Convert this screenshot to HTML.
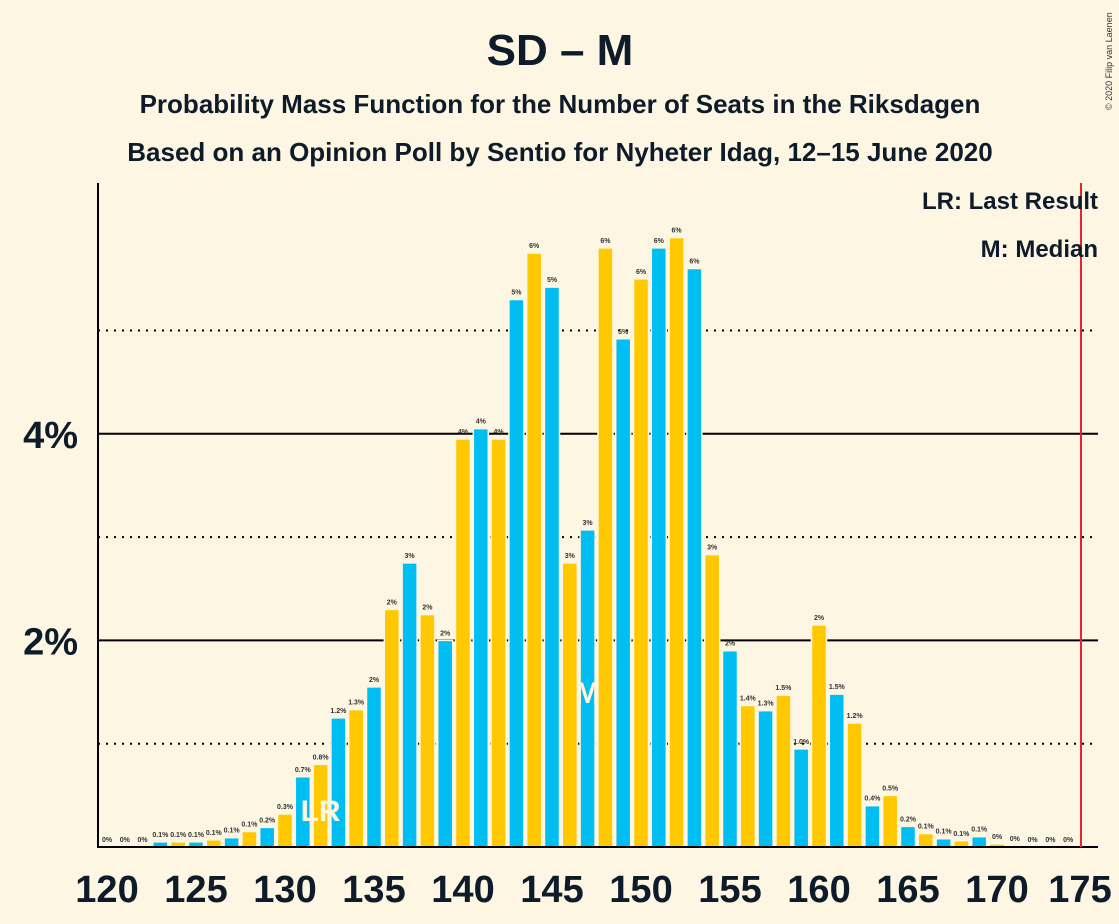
<!DOCTYPE html>
<html><head><meta charset="utf-8"><style>
body{margin:0;background:#fdf6e3;}
svg{display:block;font-family:"Liberation Sans",sans-serif;}
</style></head><body>
<svg id="c" width="1119" height="924">
<rect width="1119" height="924" fill="#fdf6e3"/>
<text x="560" y="65" text-anchor="middle" font-size="44" font-weight="bold" fill="#0d1b2a">SD – M</text>
<text x="560" y="113" text-anchor="middle" font-size="26" font-weight="bold" fill="#0d1b2a">Probability Mass Function for the Number of Seats in the Riksdagen</text>
<text x="560" y="161" text-anchor="middle" font-size="26" font-weight="bold" fill="#0d1b2a">Based on an Opinion Poll by Sentio for Nyheter Idag, 12–15 June 2020</text>
<text x="1112" y="110" font-size="9" fill="#333" transform="rotate(-90 1112 110)">© 2020 Filip van Laenen</text>
<g id="grid"></g>
<g id="bars"></g>
<g id="axes"></g>
<text x="1098" y="209" text-anchor="end" font-size="24" font-weight="bold" fill="#0d1b2a">LR: Last Result</text>
<text x="1098" y="257" text-anchor="end" font-size="24" font-weight="bold" fill="#0d1b2a">M: Median</text>
</svg>
<script>
const seats=[120,121,122,123,124,125,126,127,128,129,130,131,132,133,134,135,136,137,138,139,140,141,142,143,144,145,146,147,148,149,150,151,152,153,154,155,156,157,158,159,160,161,162,163,164,165,166,167,168,169,170,171,172,173,174];
const probs=[0,0,0,0.05,0.05,0.05,0.07,0.09,0.15,0.19,0.32,0.68,0.8,1.25,1.33,1.55,2.3,2.75,2.25,2.0,3.95,4.05,3.95,5.3,5.75,5.42,2.75,3.07,5.8,4.92,5.5,5.8,5.9,5.6,2.83,1.9,1.37,1.32,1.47,0.95,2.15,1.48,1.2,0.4,0.5,0.2,0.13,0.08,0.06,0.1,0.03,0.01,0,0,0];
const labels=["0%","0%","0%","0.1%","0.1%","0.1%","0.1%","0.1%","0.1%","0.2%","0.3%","0.7%","0.8%","1.2%","1.3%","2%","2%","3%","2%","2%","4%","4%","4%","5%","6%","5%","3%","3%","6%","5%","6%","6%","6%","6%","3%","2%","1.4%","1.3%","1.5%","1.0%","2%","1.5%","1.2%","0.4%","0.5%","0.2%","0.1%","0.1%","0.1%","0.1%","0%","0%","0%","0%","0%"];
const yTicks=[2,4];
const yDotted=[1,3,5];
const xTicks=[120,125,130,135,140,145,150,155,160,165,170,175];
const lastResult=132, median=147, majority=175;
const NS="http://www.w3.org/2000/svg";
const X=s=>107+(s-120)*17.8;
const Y=p=>847-p*103.3;
function mk(tag,attrs,parent,text){const e=document.createElementNS(NS,tag);for(const k in attrs)e.setAttribute(k,attrs[k]);if(text!==undefined)e.textContent=text;document.getElementById(parent).appendChild(e);return e;}
yDotted.forEach(v=>{const l=mk('line',{x1:98,x2:1098,y1:Y(v),y2:Y(v),stroke:'#000','stroke-width':2,'stroke-dasharray':'2,6'},'grid');

});
yTicks.forEach(v=>{const l=mk('line',{x1:98,x2:1098,y1:Y(v),y2:Y(v),stroke:'#000','stroke-width':2},'grid');


const t=mk('text',{x:78,y:Y(v)+14,'text-anchor':'end','font-size':38,'font-weight':'bold',fill:'#0d1b2a'},'axes',v+'%');

});
seats.forEach((s,i)=>{const p=probs[i];const col=s%2?'#00bdf2':'#ffc800';
if(p>0){const r=mk('rect',{x:X(s)-7.5,y:Y(p),width:15,height:847-Y(p),fill:col,stroke:'#fdf6e3','stroke-width':1.5},'bars');

}
const t=mk('text',{x:X(s),y:Y(p)-5,'text-anchor':'middle','font-size':7,'font-weight':'bold',fill:'#333'},'bars',labels[i]);

});
const lr=mk('text',{x:X(lastResult),y:821,'text-anchor':'middle','font-size':30,'font-weight':'bold',fill:'#fdf6e3'},'bars','LR');


const m=mk('text',{x:X(median),y:703,'text-anchor':'middle','font-size':30,'font-weight':'bold',fill:'#fdf6e3'},'bars','M');


const ax=mk('path',{d:'M98,183 V847 H1098',fill:'none',stroke:'#000','stroke-width':2},'axes');


const red=mk('line',{x1:X(majority)-5,x2:X(majority)-5,y1:183,y2:847,stroke:'#e8232a','stroke-width':2},'axes');


xTicks.forEach(v=>{const t=mk('text',{x:Math.min(X(v),1080),y:902,'text-anchor':'middle','font-size':38,'font-weight':'bold',fill:'#0d1b2a'},'axes',v);

});
</script>
</body></html>
